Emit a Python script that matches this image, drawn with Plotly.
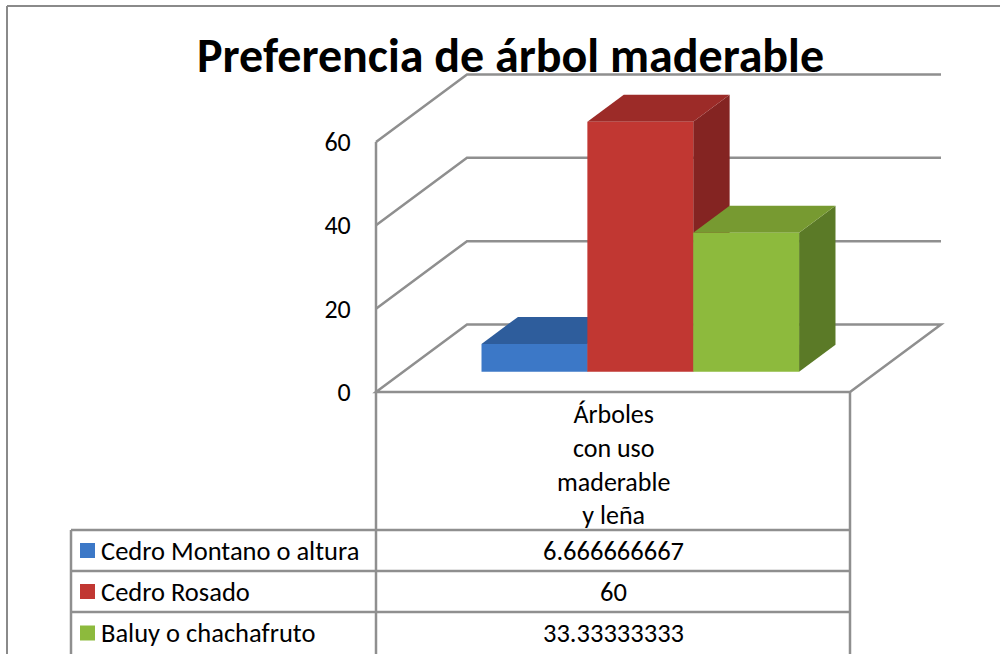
import plotly.graph_objects as go

# ---------------- data ----------------
categories = ["Árboles con uso maderable y leña"]
category_lines = ["Árboles", "con uso", "maderable", "y leña"]
series_names = ["Cedro Montano o altura", "Cedro Rosado", "Baluy o chachafruto"]
series_values = [6.666666667, 60, 33.33333333]
value_labels = ["6.666666667", "60", "33.33333333"]
tick_values = [0, 20, 40, 60]
title_text = "Preferencia de árbol maderable"

# ---------------- styles ----------------
front_colors = ["#3c78c7", "#c13732", "#8dba3d"]
top_colors = ["#2e5d9c", "#9c2b28", "#779a31"]
side_colors = ["#24497a", "#842422", "#5b7a27"]
grid_color = "#8f8f8f"
FONT = "Calibri, Carlito, Lato, sans-serif"
TXT = 26.5

W, H = 1000, 654
X_LEFT, X_RIGHT = 376, 850          # front plane (px)
Y_ZERO = 392                        # value 0 on front plane (px)
PX_PER_UNIT_Y = 250 / 60
PX_PER_CAT = X_RIGHT - X_LEFT
DEPTH_PX = (91, 67.5)               # back-plane offset (px)
BAR_DEPTH = (0.3, 0.7)              # bar depth fraction (front, back)
BARGAP = 0.33

X0 = -0.5 - X_LEFT / PX_PER_CAT
X1 = X0 + W / PX_PER_CAT
Y1 = Y_ZERO / PX_PER_UNIT_Y
Y0 = Y1 - H / PX_PER_UNIT_Y
DX = DEPTH_PX[0] / PX_PER_CAT
DY = DEPTH_PX[1] / PX_PER_UNIT_Y
d0 = BAR_DEPTH[0]
bdx = (BAR_DEPTH[1] - BAR_DEPTH[0]) * DX
bdy = (BAR_DEPTH[1] - BAR_DEPTH[0]) * DY


def px(x):
    return x / W


def py(y):
    return 1 - y / H


def path(pts, close=True):
    s = "M " + " L ".join(f"{a},{b}" for a, b in pts)
    return s + (" Z" if close else "")


fig = go.Figure()

# front faces of the 3D columns
for name, v, c in zip(series_names, series_values, front_colors):
    fig.add_trace(go.Bar(x=categories, y=[v], name=name, marker=dict(color=c, line=dict(width=0)),
                         xaxis="x2", yaxis="y2", showlegend=False, hoverinfo="name+y"))

# invisible trace to activate main axes
fig.add_trace(go.Scatter(x=[0], y=[0], mode="markers", marker=dict(opacity=0), showlegend=False,
                         hoverinfo="skip"))

shapes = []
# floor
shapes.append(dict(type="path", xref="x", yref="y", layer="below",
                   path=path([(-0.5, 0), (0.5, 0), (0.5 + DX, DY), (-0.5 + DX, DY)]),
                   line=dict(color=grid_color, width=2.5), fillcolor="white"))
# walls gridlines
for v in tick_values[1:]:
    shapes.append(dict(type="path", xref="x", yref="y", layer="below",
                       path=path([(-0.5, v), (-0.5 + DX, v + DY), (0.5 + DX, v + DY)], close=False),
                       line=dict(color=grid_color, width=2.5)))
# front vertical axis line (continues into data table)
shapes.append(dict(type="line", xref="x", yref="y", x0=-0.5, x1=-0.5, y0=Y0, y1=max(tick_values),
                   line=dict(color=grid_color, width=2.5), layer="below"))
shapes.append(dict(type="line", xref="x", yref="y", x0=0.5, x1=0.5, y0=Y0, y1=0,
                   line=dict(color=grid_color, width=2.5), layer="below"))

# top and side faces of bars
gw = 1 - BARGAP
bw = gw / len(series_values)
for i, v in enumerate(series_values):
    L = -gw / 2 + i * bw
    R = L + bw
    shapes.append(dict(type="path", xref="x2", yref="y2", layer="below",
                       path=path([(R, 0), (R, v), (R + bdx, v + bdy), (R + bdx, bdy)]),
                       fillcolor=side_colors[i], line=dict(width=0)))
    shapes.append(dict(type="path", xref="x2", yref="y2", layer="below",
                       path=path([(L, v), (R, v), (R + bdx, v + bdy), (L + bdx, v + bdy)]),
                       fillcolor=top_colors[i], line=dict(width=0)))

# data table lines
TABLE_LEFT = 71
ROW_LINES = [530, 571, 612]
for y in ROW_LINES:
    shapes.append(dict(type="line", xref="paper", yref="paper", x0=px(TABLE_LEFT), x1=px(X_RIGHT),
                       y0=py(y), y1=py(y), line=dict(color=grid_color, width=2.5)))
shapes.append(dict(type="line", xref="paper", yref="paper", x0=px(TABLE_LEFT), x1=px(TABLE_LEFT),
                   y0=py(ROW_LINES[0]), y1=0, line=dict(color=grid_color, width=2.5)))
# chart frame
shapes.append(dict(type="line", xref="paper", yref="paper", x0=px(7), x1=1, y0=py(6), y1=py(6),
                   line=dict(color="#8a8a8a", width=2)))
shapes.append(dict(type="line", xref="paper", yref="paper", x0=px(7), x1=px(7), y0=py(6), y1=0,
                   line=dict(color="#8a8a8a", width=2)))

# legend keys
row_centers = [(ROW_LINES[k] + (ROW_LINES[k + 1] if k + 1 < len(ROW_LINES) else H)) / 2
               for k in range(len(ROW_LINES))]
for yc, c in zip(row_centers, front_colors):
    shapes.append(dict(type="rect", xref="paper", yref="paper", x0=px(80), x1=px(95),
                       y0=py(yc + 7.5), y1=py(yc - 7.5), fillcolor=c, line=dict(width=0)))

annotations = []
annotations.append(dict(text=f"<b>{title_text}</b>", x=px(510), y=py(56), xref="paper", yref="paper",
                        xanchor="center", yanchor="middle", showarrow=False,
                        font=dict(family=FONT, size=48, color="black")))
annotations.append(dict(text="<br>".join(category_lines), x=px(613), y=py(465), xref="paper",
                        yref="paper", xanchor="center", yanchor="middle", showarrow=False,
                        font=dict(family=FONT, size=26, color="black")))
for yc, name, lab in zip(row_centers, series_names, value_labels):
    annotations.append(dict(text=name, x=px(99), y=py(yc), xref="paper", yref="paper",
                            xanchor="left", yanchor="middle", showarrow=False,
                            font=dict(family=FONT, size=TXT, color="black")))
    annotations.append(dict(text=lab, x=px(613), y=py(yc), xref="paper", yref="paper",
                            xanchor="center", yanchor="middle", showarrow=False,
                            font=dict(family=FONT, size=TXT, color="black")))

fig.update_layout(
    width=W, height=H, margin=dict(l=0, r=0, t=0, b=0),
    paper_bgcolor="white", plot_bgcolor="white",
    barmode="group", bargap=BARGAP, bargroupgap=0,
    xaxis=dict(range=[X0, X1], visible=False, domain=[0, 1]),
    yaxis=dict(range=[Y0, Y1], domain=[0, 1], anchor="free", position=X_LEFT / W,
               tickvals=tick_values, ticks="outside", ticklen=20, tickcolor="rgba(0,0,0,0)",
               showgrid=False, zeroline=False, showline=False,
               tickfont=dict(family=FONT, size=26, color="black")),
    xaxis2=dict(type="category", range=[X0 - d0 * DX, X1 - d0 * DX], overlaying="x",
                visible=False),
    yaxis2=dict(range=[Y0 - d0 * DY, Y1 - d0 * DY], overlaying="y", visible=False),
    shapes=shapes, annotations=annotations, showlegend=False,
)

fig.write_html("out.html", config={"displayModeBar": False},
               post_script="document.body.style.margin='0';document.body.style.overflow='hidden';")
